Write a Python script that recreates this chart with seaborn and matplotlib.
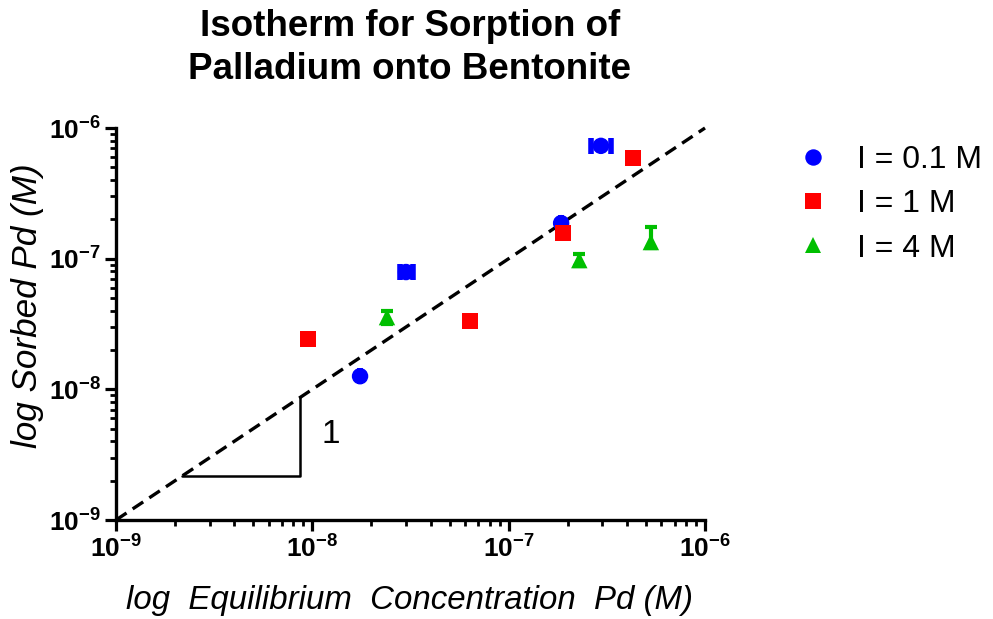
import numpy as np
import pandas as pd
import matplotlib
matplotlib.use("Agg")
import matplotlib.pyplot as plt
import seaborn as sns
from matplotlib.ticker import LogLocator, FuncFormatter, NullFormatter

# ---------------- data ----------------
groups = ["I = 0.1 M", "I = 1 M", "I = 4 M"]
colors = ["#0000FF", "#FF0000", "#00BF00"]

blue_x = [1.75e-8, 3.0e-8, 1.85e-7, 2.95e-7]
blue_y = [1.26e-8, 7.9e-8, 1.87e-7, 7.3e-7]
blue_xerr_lo = [0.0, 2.2e-9, 0.0, 3.2e-8]
blue_xerr_hi = [0.0, 2.4e-9, 0.0, 3.7e-8]

red_x = [9.5e-9, 6.35e-8, 1.89e-7, 4.3e-7]
red_y = [2.43e-8, 3.33e-8, 1.57e-7, 5.9e-7]

green_x = [2.4e-8, 2.29e-7, 5.3e-7]
green_y = [3.57e-8, 9.75e-8, 1.34e-7]
green_yerr_lo = [0.38e-8, 1.0e-8, 0.13e-7]
green_yerr_hi = [0.42e-8, 1.15e-8, 0.40e-7]

ref_line_x = [1e-9, 1e-6]
ref_line_y = [1e-9, 1e-6]

slope_x = [2.17e-9, 8.66e-9, 8.66e-9]
slope_y = [2.17e-9, 2.17e-9, 8.66e-9]
slope_label = "1"
slope_label_pos = (1.12e-8, 4.5e-9)

x_ticks = [1e-9, 1e-8, 1e-7, 1e-6]
y_ticks = [1e-9, 1e-8, 1e-7, 1e-6]

title = "Isotherm for Sorption of\nPalladium onto Bentonite"
xlabel = "log  Equilibrium  Concentration  Pd (M)"
ylabel = "log Sorbed Pd (M)"

# ---------------- build table ----------------
df = pd.DataFrame({
    "x": blue_x + red_x + green_x,
    "y": blue_y + red_y + green_y,
    "group": [groups[0]] * len(blue_x) + [groups[1]] * len(red_x) + [groups[2]] * len(green_x),
})

sns.set_style("ticks")
plt.rcParams["font.family"] = ["Liberation Sans", "DejaVu Sans"]
plt.rcParams["mathtext.fontset"] = "custom"
plt.rcParams["mathtext.rm"] = "Liberation Sans"
plt.rcParams["mathtext.bf"] = "Liberation Sans:bold"
plt.rcParams["mathtext.it"] = "Liberation Sans:italic"
for k in ("text.color", "axes.labelcolor", "xtick.color", "ytick.color",
          "axes.edgecolor"):
    plt.rcParams[k] = "black"

fig = plt.figure(figsize=(9.93, 6.19), dpi=100)
ax = fig.add_axes([116 / 993, 99 / 619, 589 / 993, 392 / 619])
ax.set_xscale("log")
ax.set_yscale("log")

# reference line y = x
ax.plot(ref_line_x, ref_line_y, color="black", lw=2.4, dashes=(3.8, 2.2), zorder=1,
        clip_on=False)
# slope triangle
ax.plot(slope_x, slope_y, color="black", lw=1.8, zorder=1)
ax.text(slope_label_pos[0], slope_label_pos[1], slope_label, fontsize=24,
        ha="left", va="center")

# error bars
ax.errorbar(blue_x, blue_y, xerr=[blue_xerr_lo, blue_xerr_hi], fmt="none",
            ecolor=colors[0], elinewidth=2.5, capsize=6, capthick=4, zorder=2)
ax.errorbar(green_x, green_y, yerr=[green_yerr_lo, green_yerr_hi], fmt="none",
            ecolor=colors[2], elinewidth=3, capsize=4.5, capthick=3, zorder=2)

sns.scatterplot(data=df, x="x", y="y", hue="group", style="group",
                hue_order=groups, style_order=groups,
                palette=dict(zip(groups, colors)),
                markers={groups[0]: "o", groups[1]: "s", groups[2]: "^"},
                s=140, linewidth=0, ax=ax, zorder=3, legend=True)

ax.set_xlim(1e-9, 1e-6)
ax.set_ylim(1e-9, 1e-6)

def fmt(v, pos):
    e = int(round(np.log10(v)))
    return r"$\mathbf{10^{%d}}$" % e

for axis in (ax.xaxis, ax.yaxis):
    axis.set_major_locator(LogLocator(base=10, numticks=10))
    axis.set_minor_locator(LogLocator(base=10, subs=np.arange(2, 10), numticks=10))
    axis.set_major_formatter(FuncFormatter(fmt))
    axis.set_minor_formatter(NullFormatter())
ax.set_xticks(x_ticks)
ax.set_yticks(y_ticks)

ax.tick_params(which="major", length=8, width=2.3, labelsize=19, pad=3)
ax.tick_params(which="minor", length=4.5, width=2.0)
for side in ("top", "right"):
    ax.spines[side].set_visible(False)
for side in ("left", "bottom"):
    ax.spines[side].set_linewidth(2.4)

ax.set_xlabel("")
ax.set_ylabel("")
fig.text(409 / 993, 1 - 600 / 619, xlabel, fontsize=23.8, style="italic",
         ha="center", va="center")
fig.text(28 / 993, 1 - 306 / 619, ylabel, fontsize=25.3, style="italic",
         ha="center", va="center", rotation=90)
fig.text(410 / 993, 1 - 48 / 619, title, fontsize=26.5, fontweight="bold",
         ha="center", va="center", linespacing=1.3)

handles, labels = ax.get_legend_handles_labels()
ax.get_legend().remove()
leg = fig.legend(handles, labels, loc="upper left",
                 bbox_to_anchor=(768 / 993, 1 - 132 / 619),
                 frameon=False, fontsize=23, handletextpad=0.4,
                 labelspacing=0.45, markerscale=1.0, borderaxespad=0)

fig.savefig("out.png", dpi=100)
